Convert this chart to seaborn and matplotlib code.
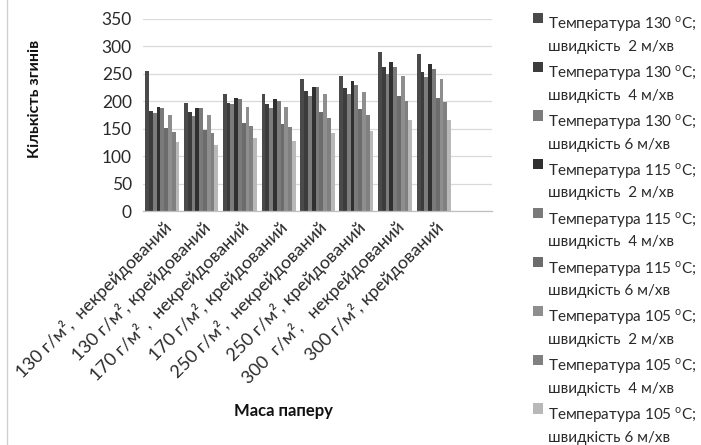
import matplotlib
matplotlib.use("Agg")
import matplotlib.pyplot as plt
from matplotlib.lines import Line2D
import seaborn as sns
import pandas as pd

# Paper grades on the x axis
categories = [
    "130 г/м²,  некрейдований",
    "130 г/м², крейдований",
    "170 г/м² ,  некрейдований",
    "170 г/м², крейдований",
    "250 г/м²,  некрейдований",
    "250 г/м², крейдований",
    "300  г/м²,   некрейдований",
    "300 г/м², крейдований",
]

# Legend entries: lamination temperature and speed
series = [
    "Температура 130 $^{\\mathrm{o}}$C;\nшвидкість  2 м/хв",
    "Температура 130 $^{\\mathrm{o}}$C;\nшвидкість  4 м/хв",
    "Температура 130 $^{\\mathrm{o}}$C;\nшвидкість 6 м/хв",
    "Температура 115 $^{\\mathrm{o}}$C;\nшвидкість  2 м/хв",
    "Температура 115 $^{\\mathrm{o}}$C;\nшвидкість  4 м/хв",
    "Температура 115 $^{\\mathrm{o}}$C;\nшвидкість 6 м/хв",
    "Температура 105 $^{\\mathrm{o}}$C;\nшвидкість  2 м/хв",
    "Температура 105 $^{\\mathrm{o}}$C;\nшвидкість  4 м/хв",
    "Температура 105 $^{\\mathrm{o}}$C;\nшвидкість 6 м/хв",
]

# Number of bends, one list per series (values across the 8 paper grades)
t130_v2 = [254, 196, 213, 213, 240, 245, 289, 286]
t130_v4 = [182, 180, 196, 195, 218, 224, 262, 253]
t130_v6 = [178, 172, 194, 187, 209, 213, 250, 243]
t115_v2 = [190, 188, 206, 204, 226, 237, 271, 268]
t115_v4 = [187, 187, 203, 201, 226, 230, 262, 259]
t115_v6 = [151, 148, 161, 158, 180, 186, 210, 206]
t105_v2 = [175, 175, 190, 189, 213, 217, 246, 241]
t105_v4 = [144, 142, 155, 153, 170, 175, 201, 198]
t105_v6 = [125, 120, 133, 128, 142, 146, 166, 165]

values = [t130_v2, t130_v4, t130_v6, t115_v2, t115_v4, t115_v6,
          t105_v2, t105_v4, t105_v6]

colors = ["#4a4a4a", "#3c3c3c", "#7c7c7c", "#303030", "#7a7a7a",
          "#6c6c6c", "#8e8e8e", "#808080", "#b8b8b8"]

rows = []
for s, vals in zip(series, values):
    for c, v in zip(categories, vals):
        rows.append({"category": c, "series": s, "value": v})
df = pd.DataFrame(rows)

sns.set_theme(style="white")
plt.rcParams["font.family"] = ["Lato", "DejaVu Sans"]
plt.rcParams["mathtext.fontset"] = "custom"
plt.rcParams["mathtext.rm"] = "Lato"
text_color = "#2a2a2a"

fig = plt.figure(figsize=(7.01, 4.45), dpi=100)
ax = fig.add_axes([143 / 701, 1 - 211 / 445, (492 - 143) / 701, (211 - 18.7) / 445])

sns.barplot(data=df, x="category", y="value", hue="series",
            order=categories, hue_order=series, palette=colors,
            width=0.88, saturation=1, ax=ax, legend=True)

for p in ax.patches:
    p.set_linewidth(0)

ax.set_xlim(-0.5, 8.5)
ax.set_ylim(0, 350)
ax.set_yticks(range(0, 351, 50))
ax.yaxis.grid(True, color="#d9d9d9", linewidth=0.9)
ax.set_axisbelow(True)
for side in ["top", "right", "left"]:
    ax.spines[side].set_visible(False)
ax.spines["bottom"].set_color("#bfbfbf")
ax.spines["bottom"].set_linewidth(0.9)

ax.set_xticks(range(len(categories)))
ax.set_xticklabels(categories, rotation=45, ha="right", rotation_mode="anchor",
                   fontsize=13, color=text_color)
ax.tick_params(axis="x", length=0, pad=5)
ax.set_xticks([i - 0.5 for i in range(len(categories) + 1)], minor=True)
ax.tick_params(axis="x", which="minor", length=4, color="#bfbfbf", width=0.9)
ax.tick_params(axis="y", length=0, labelsize=12.5, labelcolor=text_color, pad=8)

ax.set_xlabel("")
ax.set_ylabel("")
fig.text(35 / 701, 1 - 99 / 445, "Кількість згинів", rotation=90, ha="center",
         va="center", fontsize=11.5, fontweight="bold", color="#111111")
fig.text(283 / 701, 1 - 411 / 445, "Маса паперу", ha="center", va="center",
         fontsize=12, fontweight="bold", color="#111111")

handles, labels = ax.get_legend_handles_labels()
ax.get_legend().remove()
leg = fig.legend(handles, labels, loc="upper left",
                 bbox_to_anchor=(527 / 701, 1 + 8 / 445),
                 frameon=False, fontsize=11, handlelength=0.65,
                 handleheight=0.65, handletextpad=0.33, labelspacing=0.63,
                 borderaxespad=0)
for t in leg.get_texts():
    t.set_linespacing(1.5)
    t.set_color(text_color)
    t.set_va("center")

# chart area frame on the left
fig.add_artist(Line2D([7 / 701, 7 / 701], [0.0, 1.0], color="#d0d0d0",
                      linewidth=1, transform=fig.transFigure))

fig.savefig("out.png", dpi=100)
